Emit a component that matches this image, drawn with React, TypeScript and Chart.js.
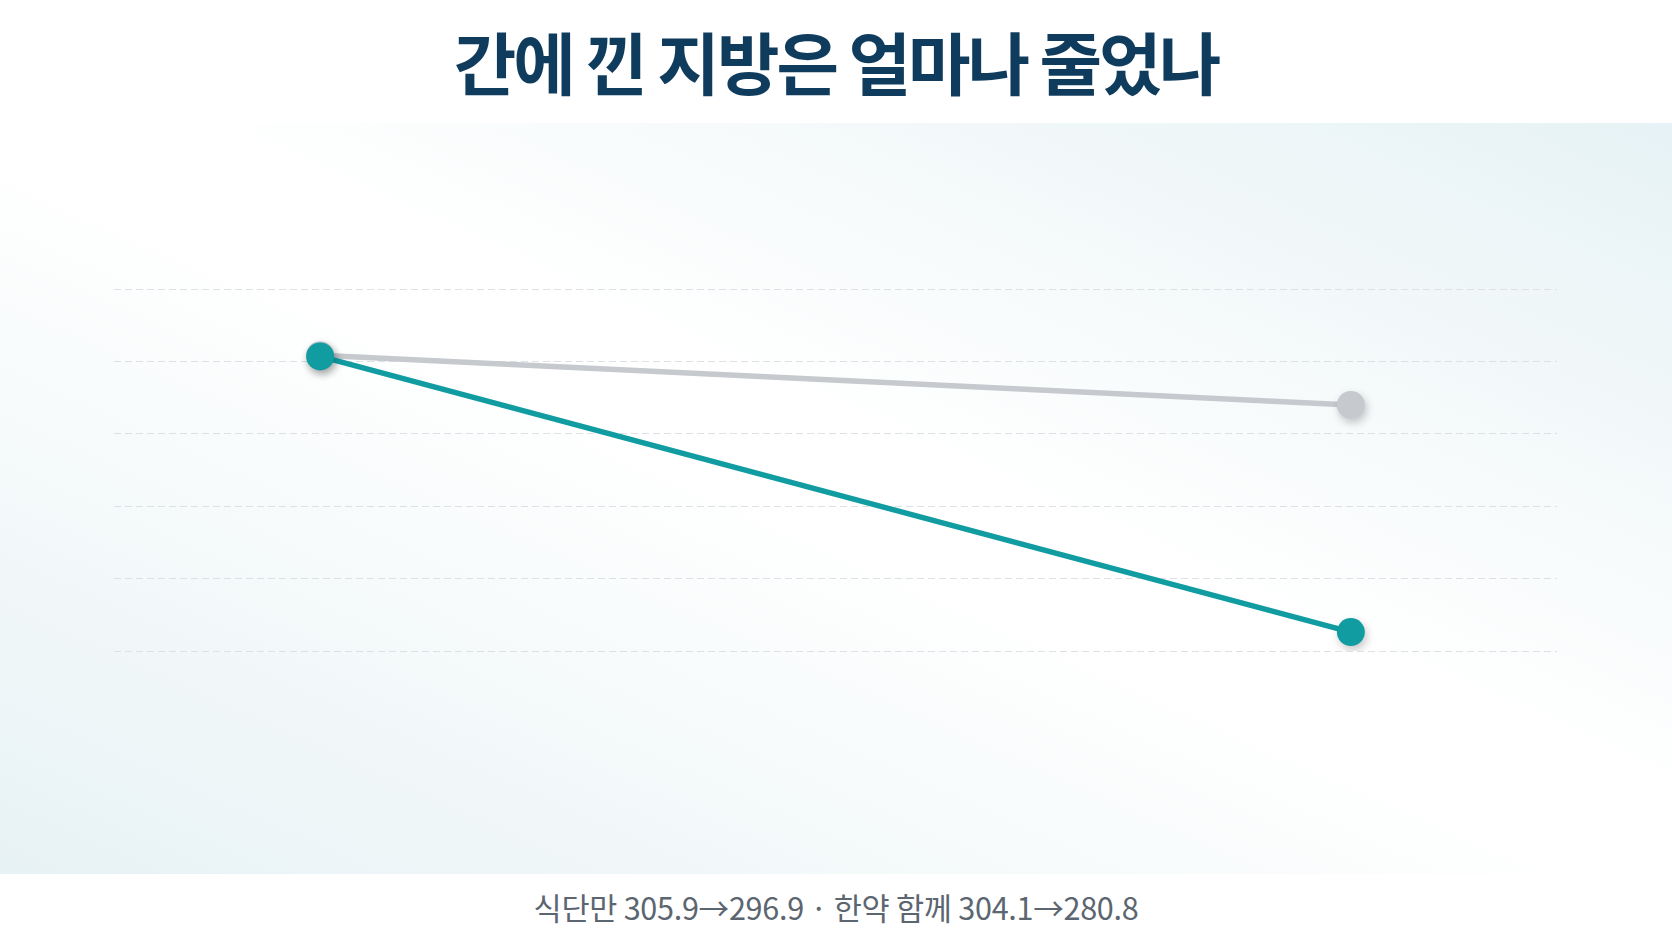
import { useEffect, useRef } from 'react';
import { Chart, registerables } from 'chart.js';

Chart.register(...registerables);

// 두 시점 (치료 전 / 치료 후)
const stages = ['전', '후'];
// 그림에서 읽은 간지방 값 (세로축은 숨김)
const dietOnly = [304.2, 300.0];
const withHerbal = [304.1, 280.8];
const seriesNames = ['식단만', '한약 함께'];

const TITLE = '간에 낀 지방은 얼마나 줄었나';
const CAPTION = '식단만 305.9→296.9 · 한약 함께 304.1→280.8';

const TEAL = '#109ca0';
const GRAY = '#c6c9ce';

// shadow only for the dot datasets
const dotShadow = {
  id: 'dotShadow',
  beforeDatasetDraw(chart: any, args: any) {
    const ds = chart.data.datasets[args.index];
    if (!ds.isDots) return;
    const ctx = chart.ctx;
    ctx.save();
    ctx.shadowColor = 'rgba(0, 0, 0, 0.22)';
    ctx.shadowBlur = 8;
    ctx.shadowOffsetX = 2;
    ctx.shadowOffsetY = 4;
  },
  afterDatasetDraw(chart: any, args: any) {
    const ds = chart.data.datasets[args.index];
    if (!ds.isDots) return;
    chart.ctx.restore();
  },
};

export default function App() {
  const canvasRef = useRef<HTMLCanvasElement>(null);
  const chartRef = useRef<Chart | null>(null);

  useEffect(() => {
    if (!canvasRef.current) return;
    if (chartRef.current) chartRef.current.destroy();

    const toPoints = (vals: number[]) => vals.map((v, i) => ({ x: i, y: v }));

    chartRef.current = new Chart(canvasRef.current, {
      type: 'line',
      data: {
        labels: stages,
        datasets: [
          // teal dots (top-most)
          {
            label: seriesNames[1],
            data: toPoints(withHerbal),
            showLine: false,
            pointRadius: 14,
            pointBackgroundColor: TEAL,
            pointBorderWidth: 0,
            order: 0,
            isDots: true,
          } as any,
          {
            label: seriesNames[1],
            data: toPoints(withHerbal),
            borderColor: TEAL,
            borderWidth: 5.5,
            pointRadius: 0,
            order: 1,
          },
          {
            label: seriesNames[0],
            data: toPoints(dietOnly),
            showLine: false,
            pointRadius: 14,
            pointBackgroundColor: GRAY,
            pointBorderWidth: 0,
            order: 2,
            isDots: true,
          } as any,
          {
            label: seriesNames[0],
            data: toPoints(dietOnly),
            borderColor: GRAY,
            borderWidth: 5.5,
            pointRadius: 0,
            order: 3,
          },
        ],
      },
      options: {
        animation: false,
        responsive: true,
        maintainAspectRatio: false,
        events: [],
        layout: {
          padding: { left: 114, right: 115, top: 166, bottom: 223 },
        },
        plugins: {
          legend: { display: false },
          title: { display: false },
          tooltip: { enabled: false },
        },
        scales: {
          x: {
            type: 'linear',
            min: -0.2,
            max: 1.2,
            display: false,
          },
          y: {
            min: 279.2,
            max: 309.8,
            ticks: { display: false, count: 6 },
            grid: {
              color: '#dde1e5',
              lineWidth: 1,
              drawTicks: false,
            },
            border: { display: false, dash: [7, 4] },
          } as any,
        },
      },
      plugins: [dotShadow],
    });

    return () => {
      if (chartRef.current) {
        chartRef.current.destroy();
        chartRef.current = null;
      }
    };
  }, []);

  return (
    <div
      style={{
        position: 'fixed',
        inset: 0,
        width: 1672,
        height: 941,
        background: '#ffffff',
        fontFamily: '"Noto Sans CJK KR", "Noto Sans", sans-serif',
        overflow: 'hidden',
      }}
    >
      <div
        style={{
          position: 'absolute',
          top: 15,
          left: 0,
          width: 1672,
          textAlign: 'center',
          fontSize: 68,
          fontWeight: 700,
          lineHeight: '92px',
          color: '#0f3b5d',
          letterSpacing: '-3px',
        }}
      >
        {TITLE}
      </div>

      <div
        style={{
          position: 'absolute',
          left: 0,
          top: 123,
          width: 1672,
          height: 751,
          background:
            'linear-gradient(to top right, #e7f2f5 0%, #f6fafb 30%, #ffffff 48%, #ffffff 55%, #f6fafb 72%, #e6f2f5 100%)',
        }}
      >
        <canvas ref={canvasRef} />
      </div>

      <div
        style={{
          position: 'absolute',
          top: 885,
          left: 0,
          width: 1672,
          textAlign: 'center',
          fontSize: 30.6,
          lineHeight: '44px',
          color: '#5c6670',
          letterSpacing: '-0.3px',
        }}
      >
        {CAPTION}
      </div>
    </div>
  );
}
